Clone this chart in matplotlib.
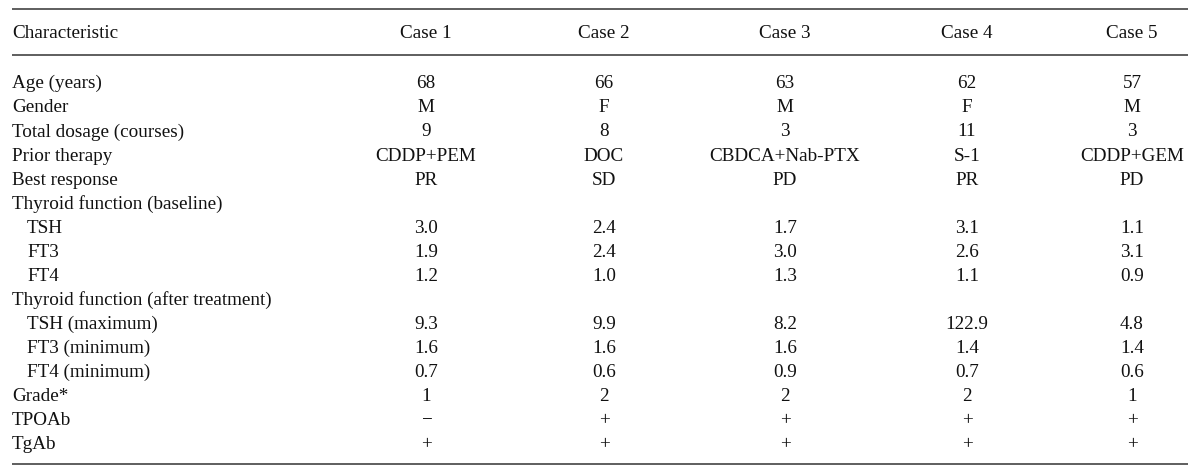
import matplotlib
matplotlib.use("Agg")
import matplotlib.pyplot as plt

# table contents
columns = ["Case 1", "Case 2", "Case 3", "Case 4", "Case 5"]
row_labels = [
    "Age (years)", "Gender", "Total dosage (courses)", "Prior therapy",
    "Best response", "Thyroid function (baseline)", "TSH", "FT3", "FT4",
    "Thyroid function (after treatment)", "TSH (maximum)", "FT3 (minimum)",
    "FT4 (minimum)", "Grade*", "TPOAb", "TgAb",
]
indented = [False, False, False, False, False, False, True, True, True,
            False, True, True, True, False, False, False]
case1 = ["68", "M", "9", "CDDP+PEM", "PR", "", "3.0", "1.9", "1.2", "", "9.3", "1.6", "0.7", "1", "\u2212", "+"]
case2 = ["66", "F", "8", "DOC", "SD", "", "2.4", "2.4", "1.0", "", "9.9", "1.6", "0.6", "2", "+", "+"]
case3 = ["63", "M", "3", "CBDCA+Nab-PTX", "PD", "", "1.7", "3.0", "1.3", "", "8.2", "1.6", "0.9", "2", "+", "+"]
case4 = ["62", "F", "11", "S-1", "PR", "", "3.1", "2.6", "1.1", "", "122.9", "1.4", "0.7", "2", "+", "+"]
case5 = ["57", "M", "3", "CDDP+GEM", "PD", "", "1.1", "3.1", "0.9", "", "4.8", "1.4", "0.6", "1", "+", "+"]
case_values = [case1, case2, case3, case4, case5]

W, H = 1200, 473
fig = plt.figure(figsize=(W / 100, H / 100), dpi=100)
ax = fig.add_axes([0, 0, 1, 1])
ax.set_xlim(0, W)
ax.set_ylim(H, 0)
ax.axis("off")

font = dict(family="Liberation Serif", fontsize=13.8, color="#111111")
col_x = [426, 604, 785, 967, 1132]
x_left, x_right = 12, 1188
base_off = 6.3  # baseline sits below the visual centre of each row
header_y = 32
row0, row_step = 82, 24.07

# rules
for y in (9.5, 55, 464):
    ax.hlines(y, x_left, x_right, color="#333333", linewidth=1.1)

ax.text(x_left, header_y + base_off, "Characteristic", ha="left", va="baseline", **font)
for x, c in zip(col_x, columns):
    ax.text(x, header_y + base_off, c, ha="center", va="baseline", **font)

for i, (lab, ind) in enumerate(zip(row_labels, indented)):
    y = row0 + i * row_step + base_off
    ax.text(x_left + 15 if ind else x_left, y, lab, ha="left", va="baseline", **font)
    for x, vals in zip(col_x, case_values):
        if vals[i]:
            ax.text(x, y, vals[i], ha="center", va="baseline", **font)

fig.savefig("out.png", dpi=100, facecolor="white")
